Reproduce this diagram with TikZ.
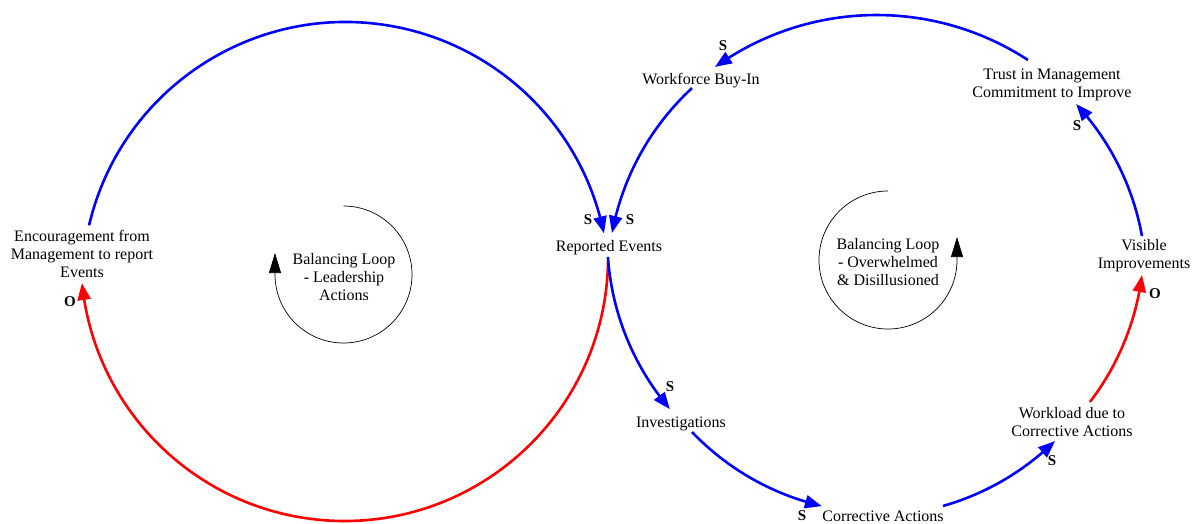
\documentclass[tikz,border=0pt]{standalone}
\usepackage{fontspec}
\setmainfont{Liberation Serif}
\usetikzlibrary{arrows.meta,calc,bending}
\begin{document}
\begin{tikzpicture}[x=1pt,y=1pt,
  lbl/.style={font=\fontsize{16}{18}\selectfont, align=center, inner sep=0pt},
  pol/.style={font=\fontsize{15}{17}\selectfont\bfseries, inner sep=0pt},
  posarc/.style={draw=blue, line width=2.6pt, -{Triangle[length=17pt,width=13pt,bend]}},
  negarc/.style={draw=red, line width=2.6pt, -{Triangle[length=17pt,width=13pt,bend]}},
  loopc/.style={draw=black, line width=0.7pt, -{Triangle[length=20pt,width=12pt]}}
]
\useasboundingbox (0,0) rectangle (1194,-523);

% variable nodes
\node[lbl] (enc) at (82,-254) {Encouragement from\\Management to report\\Events};
\node[lbl] (rep) at (609,-248) {Reported Events};
\node[lbl] (wfb) at (701,-81) {Workforce Buy-In};
\node[lbl] (trust) at (1052,-85) {Trust in Management\\Commitment to Improve};
\node[lbl] (vis) at (1144,-256) {Visible\\Improvements};
\node[lbl] (work) at (1072,-422) {Workload due to\\Corrective Actions};
\node[lbl] (corr) at (883,-516) {Corrective Actions};
\node[lbl] (inv) at (681,-424) {Investigations};
\node[lbl] (bl1) at (344,-277) {Balancing Loop\\- Leadership\\Actions};
\node[lbl] (bl2) at (888,-262) {Balancing Loop\\- Overwhelmed\\\& Disillusioned};

% connector start points
\coordinate (c1s) at ($(345.6,-285.5)+(166.8:263.5)$);
\coordinate (c2s) at ($(344.4,-257.35)+(-1:263.65)$);
\coordinate (c3s) at ($(869.3,-239.1)+(183.9:262)$);
\coordinate (c4s) at ($(881.2,-250.8)+(223.76:262)$);
\coordinate (c5s) at ($(871.5,-253.9)+(-74.17:262)$);
\coordinate (c6s) at ($(881.9,-242.7)+(-37.43:262)$);
\coordinate (c7s) at ($(884.1,-282.4)+(10.2:262)$);
\coordinate (c8s) at ($(876.6,-292)+(56.87:277)$);
\coordinate (c9s) at ($(869.7,-280.6)+(132.7:262)$);

% connectors
\draw[posarc] (c1s) arc[start angle=166.8, end angle=11.4, radius=263.5];
\draw[negarc] (c2s) arc[start angle=-1, end angle=-174.4, radius=263.65];
\draw[posarc] (c3s) arc[start angle=183.9, end angle=220.45, radius=262];
\draw[posarc] (c4s) arc[start angle=223.76, end angle=256.94, radius=262];
\draw[posarc] (c5s) arc[start angle=-74.17, end angle=-45.55, radius=262];
\draw[negarc] (c6s) arc[start angle=-37.43, end angle=-7.08, radius=262];
\draw[posarc] (c7s) arc[start angle=10.2, end angle=42.9, radius=262];
\draw[posarc] (c8s) arc[start angle=56.87, end angle=125.69, radius=277];
\draw[posarc] (c9s) arc[start angle=132.7, end angle=169.53, radius=262];

% loop markers
\coordinate (l1s) at (343.5,-206);
\draw[loopc] (l1s) arc[start angle=90, end angle=-180, radius=68.5] -- ++(0,21.5);
\coordinate (l2s) at (888,-191);
\draw[loopc] (l2s) arc[start angle=90, end angle=360, radius=69] -- ++(0,23);

% polarity labels
\node[pol] (p1) at (588,-220) {S};
\node[pol] (p2) at (630,-220) {S};
\node[pol] (p3) at (70,-302) {O};
\node[pol] (p4) at (670,-387) {S};
\node[pol] (p5) at (802,-516) {S};
\node[pol] (p6) at (1052,-461) {S};
\node[pol] (p7) at (1155,-294) {O};
\node[pol] (p8) at (1077,-126) {S};
\node[pol] (p9) at (723,-46) {S};
\end{tikzpicture}
\end{document}
